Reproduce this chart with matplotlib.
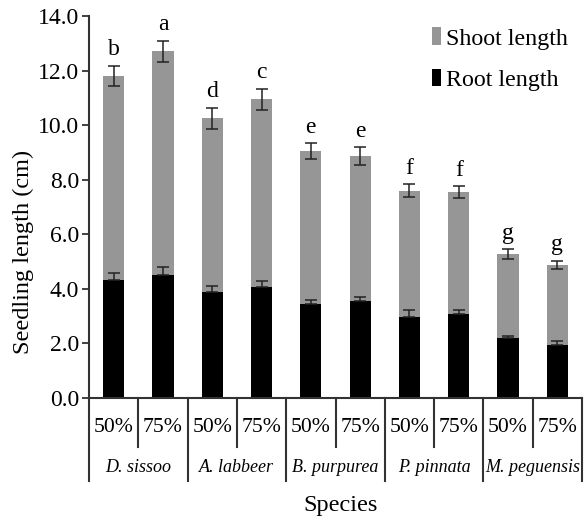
import numpy as np
import matplotlib
matplotlib.use("Agg")
import matplotlib.pyplot as plt

plt.rcParams['font.family'] = ['Liberation Serif', 'DejaVu Serif']

species = ["D. sissoo", "A. labbeer", "B. purpurea", "P. pinnata", "M. peguensis"]
levels = ["50%", "75%"]

# total seedling length (root + shoot) and its error
total = [11.8, 12.7, 10.25, 10.95, 9.05, 8.87, 7.6, 7.55, 5.28, 4.88]
total_err = [0.38, 0.4, 0.38, 0.38, 0.28, 0.32, 0.23, 0.22, 0.18, 0.15]
root = [4.32, 4.5, 3.9, 4.07, 3.45, 3.56, 2.98, 3.07, 2.2, 1.95]
root_err = [0.27, 0.3, 0.2, 0.22, 0.14, 0.15, 0.25, 0.15, 0.08, 0.15]
letters = ["b", "a", "d", "c", "e", "e", "f", "f", "g", "g"]

gray = "#969696"
dark = "#222222"

fig = plt.figure(figsize=(5.84, 5.2), dpi=100)
ax = fig.add_axes([89/584, 1-398/520, (582-89)/584, (398-16)/520])

x = np.arange(len(total))
shoot = np.array(total) - np.array(root)
ax.bar(x, shoot, 0.43, bottom=root, color=gray, label="Shoot length", zorder=2)
ax.bar(x, root, 0.43, color="black", label="Root length", zorder=2)
ax.errorbar(x, total, yerr=total_err, fmt="none", ecolor=dark, elinewidth=1.1,
            capsize=4, capthick=1.1, zorder=3)
ax.errorbar(x, root, yerr=[np.zeros(len(root)), root_err], fmt="none", ecolor=dark,
            elinewidth=1.1, capsize=4, capthick=1.1, zorder=3)

for i in range(len(x)):
    ax.text(x[i], total[i] + total_err[i] + 0.2, letters[i], ha="center", va="bottom",
            fontsize=17)

ax.set_xlim(-0.5, 9.5)
ax.set_ylim(0, 14)
ax.set_yticks(np.arange(0, 14.1, 2))
ax.set_yticklabels(["%.1f" % v for v in np.arange(0, 14.1, 2)], fontsize=17)
ax.set_xticks([])
ax.tick_params(axis="y", direction="out", length=5, width=1.3, color="#333333", pad=2)
for s in ["top", "right"]:
    ax.spines[s].set_visible(False)
for s in ["left", "bottom"]:
    ax.spines[s].set_linewidth(1.5)
    ax.spines[s].set_color("#333333")

ax.set_ylabel("Seedling length (cm)", fontsize=17.5)
ax.yaxis.set_label_coords(-0.112, 0.382)

tr = ax.get_xaxis_transform()
for b in [0.5, 2.5, 4.5, 6.5, 8.5]:
    ax.plot([b, b], [0, -0.128], transform=tr, color="#333333", lw=1.5, clip_on=False)
for b in [-0.5, 1.5, 3.5, 5.5, 7.5, 9.5]:
    ax.plot([b, b], [0, -0.217], transform=tr, color="#333333", lw=1.5, clip_on=False)
for i in range(len(x)):
    ax.text(x[i], -0.076, levels[i % 2], transform=tr, ha="center", va="center", fontsize=15.7)
for j, sp in enumerate(species):
    ax.text(2*j + 0.5, -0.181, sp, transform=tr, ha="center", va="center", fontsize=13,
            style="italic")

fig.text(341/584, 1-505/520, "Species", ha="center", va="center", fontsize=17.5)

ax.legend(loc="upper right", bbox_to_anchor=(1.0, 1.008), frameon=False, fontsize=17.3,
          handlelength=0.35, handleheight=0.75, handletextpad=0.2, labelspacing=0.8,
          borderaxespad=0.2)

fig.savefig("out.png", dpi=100)
